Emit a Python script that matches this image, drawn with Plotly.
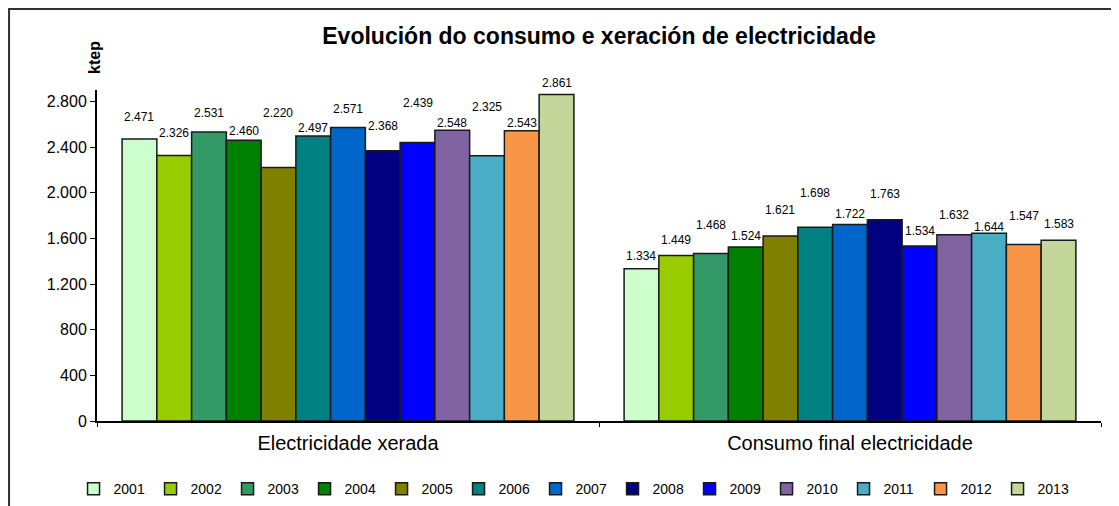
import plotly.graph_objects as go

# Data (ktep)
categories = ["Electricidade xerada", "Consumo final electricidade"]
years = ["2001", "2002", "2003", "2004", "2005", "2006", "2007",
         "2008", "2009", "2010", "2011", "2012", "2013"]
xerada = [2471, 2326, 2531, 2460, 2220, 2497, 2571, 2368, 2439, 2548, 2325, 2543, 2861]
consumo = [1334, 1449, 1468, 1524, 1621, 1698, 1722, 1763, 1534, 1632, 1644, 1547, 1583]

# label offsets above bar tops (px), as placed in the original chart
shift_xerada = [22, 23, 19, 9, 55, 8, 19, 25, 40, 7, 49, 8, 11]
shift_consumo = [13, 16, 28, 11, 26, 34, 10, 26, 15, 20, 6, 28, 16]

colors = ["#CCFFCC", "#99CC00", "#339966", "#008000", "#808000", "#008080", "#0066CC",
          "#000080", "#0000FF", "#8064A2", "#4BACC6", "#F79646", "#C4D79B"]

FONT = "Liberation Sans, Arial, sans-serif"
BARGAP = 0.1


def fmt(v):
    return f"{v:,}".replace(",", ".")


fig = go.Figure()
for i, yr in enumerate(years):
    fig.add_trace(go.Bar(
        x=categories,
        y=[xerada[i], consumo[i]],
        name=yr,
        marker=dict(color=colors[i], line=dict(color="#1a1a1a", width=1.5)),
        hoverinfo="x+y+name",
    ))

# data labels
n = len(years)
step = (1 - BARGAP) / n
for ci, (vals, shifts) in enumerate([(xerada, shift_xerada), (consumo, shift_consumo)]):
    for i, v in enumerate(vals):
        fig.add_annotation(
            x=ci - (1 - BARGAP) / 2 + (i + 0.5) * step,
            y=v, yshift=shifts[i],
            text=fmt(v), showarrow=False,
            font=dict(size=12, color="#000000"),
            xanchor="center", yanchor="middle",
        )

# axis unit label
fig.add_annotation(
    xref="paper", yref="paper", x=-0.002, y=1.10,
    xanchor="center", yanchor="middle",
    text="<b>ktep</b>", textangle=-90, showarrow=False,
    font=dict(size=16, color="#000000"),
)

# outer chart frame
fig.add_shape(type="rect", xref="paper", yref="paper",
              x0=-0.0876, x1=1.1, y0=-0.4, y1=1.2447,
              line=dict(color="#303030", width=2), layer="below")

fig.update_layout(
    width=1111, height=498,
    font=dict(family=FONT, color="#000000"),
    separators=",.",
    title=dict(text="<b>Evolución do consumo e xeración de electricidade</b>",
               x=0.5, xref="paper", y=0.944, yanchor="middle",
               font=dict(size=23, color="#000000")),
    margin=dict(l=89, r=18, t=82, b=85),
    plot_bgcolor="white", paper_bgcolor="white",
    barmode="group", bargap=BARGAP, bargroupgap=0,
    showlegend=True,
    legend=dict(orientation="h", xref="container", x=0.059, xanchor="left",
                yref="container", y=0.034, yanchor="middle",
                font=dict(size=14), entrywidth=32, entrywidthmode="pixels",
                traceorder="normal"),
)

fig.update_xaxes(
    showline=True, linecolor="#000000", linewidth=2,
    ticks="outside", tickson="boundaries", ticklen=4, tickcolor="#000000",
    tickfont=dict(size=20), ticklabelstandoff=3, showgrid=False,
)
fig.update_yaxes(
    range=[0, 2900], tickvals=list(range(0, 2801, 400)), tickformat=",d",
    showline=True, linecolor="#000000", linewidth=2,
    ticks="outside", ticklen=5, tickcolor="#000000",
    tickfont=dict(size=16), showgrid=False, zeroline=False,
)

fig.write_html("out.html")
